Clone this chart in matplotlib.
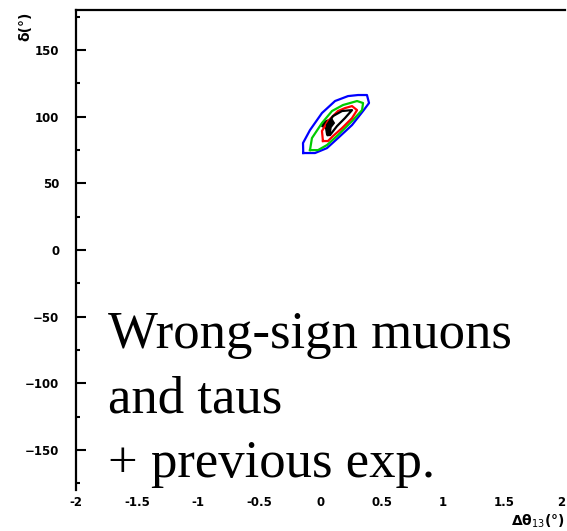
import matplotlib
matplotlib.use('Agg')
import matplotlib.pyplot as plt
from matplotlib.ticker import MultipleLocator

# contour outlines (x = delta theta13 in deg, y = delta in deg)
blue_x = [-0.141, -0.143, -0.086, 0.012, 0.119, 0.225, 0.307, 0.380, 0.397, 0.348, 0.258, 0.143, 0.053, -0.045]
blue_y = [72.8, 80.3, 90.0, 102.8, 111.8, 115.5, 116.3, 116.3, 110.3, 104.3, 93.8, 84.0, 76.5, 72.8]

green_x = [-0.086, -0.070, 0.012, 0.094, 0.184, 0.299, 0.348, 0.340, 0.258, 0.143, 0.053, -0.020]
green_y = [75.0, 84.0, 95.3, 104.3, 108.8, 111.8, 110.3, 105.0, 96.8, 86.3, 78.8, 75.0]

red_x = [0.020, 0.012, 0.061, 0.143, 0.200, 0.258, 0.299, 0.258, 0.176, 0.102, 0.061]
red_y = [81.8, 89.3, 96.8, 104.3, 106.5, 108.0, 105.0, 99.0, 91.5, 85.5, 81.8]

black_x = [0.061, 0.053, 0.102, 0.176, 0.258, 0.200, 0.135, 0.078]
black_y = [86.3, 93.8, 100.5, 104.3, 105.0, 99.0, 93.0, 86.3]

blob_x = [0.031, 0.092, 0.113, 0.086, 0.078, 0.051, 0.042, 0.010]
blob_y = [96.5, 98.5, 95.3, 92.0, 86.5, 86.5, 91.5, 92.8]

x_ticks = [-2, -1.5, -1, -0.5, 0, 0.5, 1, 1.5, 2]
x_labels = ['-2', '-1.5', '-1', '-0.5', '0', '0.5', '1', '1.5', '2']
y_ticks = [-150, -100, -50, 0, 50, 100, 150]

note_lines = ['Wrong-sign muons', 'and taus', '+ previous exp.']

fig = plt.figure(figsize=(5.67, 5.31), dpi=100)
ax = fig.add_axes([0.134, 0.077, 0.8625, 0.904])

for xs, ys, c in [(blue_x, blue_y, '#0000ff'), (green_x, green_y, '#00cc00'),
                  (red_x, red_y, '#ff0000'), (black_x, black_y, 'black')]:
    ax.plot(xs + xs[:1], ys + ys[:1], color=c, lw=1.6)
ax.fill(blob_x, blob_y, color='black')

ax.set_xlim(-2, 2)
ax.set_ylim(-180, 180)
ax.set_xticks(x_ticks)
ax.set_xticklabels(x_labels)
ax.set_yticks(y_ticks)
ax.yaxis.set_minor_locator(MultipleLocator(25))

ax.spines['bottom'].set_visible(False)
ax.spines['right'].set_visible(False)
ax.spines['left'].set_linewidth(1.6)
ax.spines['top'].set_linewidth(1.6)
ax.tick_params(axis='y', which='major', direction='in', length=7, width=1.5, labelsize=8.5, pad=12)
ax.tick_params(axis='y', which='minor', direction='in', length=3, width=1.5)
ax.tick_params(axis='x', length=0, labelsize=8.5, pad=4)
for lab in ax.get_xticklabels() + ax.get_yticklabels():
    lab.set_fontweight('bold')
# last label sits at the figure edge, keep it inside
ax.get_xticklabels()[-1].set_horizontalalignment('right')

fig.text(0.045, 0.95, 'δ(°)', rotation=90, fontsize=10, fontweight='bold', ha='center', va='center')
fig.text(0.995, 0.018, 'Δθ$_{13}$(°)', fontsize=10, fontweight='bold', ha='right', va='center')

for i, line in enumerate(note_lines):
    fig.text(0.19, 0.345 - i * 0.1215, line, family='Liberation Serif', fontsize=38,
             va='baseline', ha='left')

fig.savefig('out.png', dpi=100)
